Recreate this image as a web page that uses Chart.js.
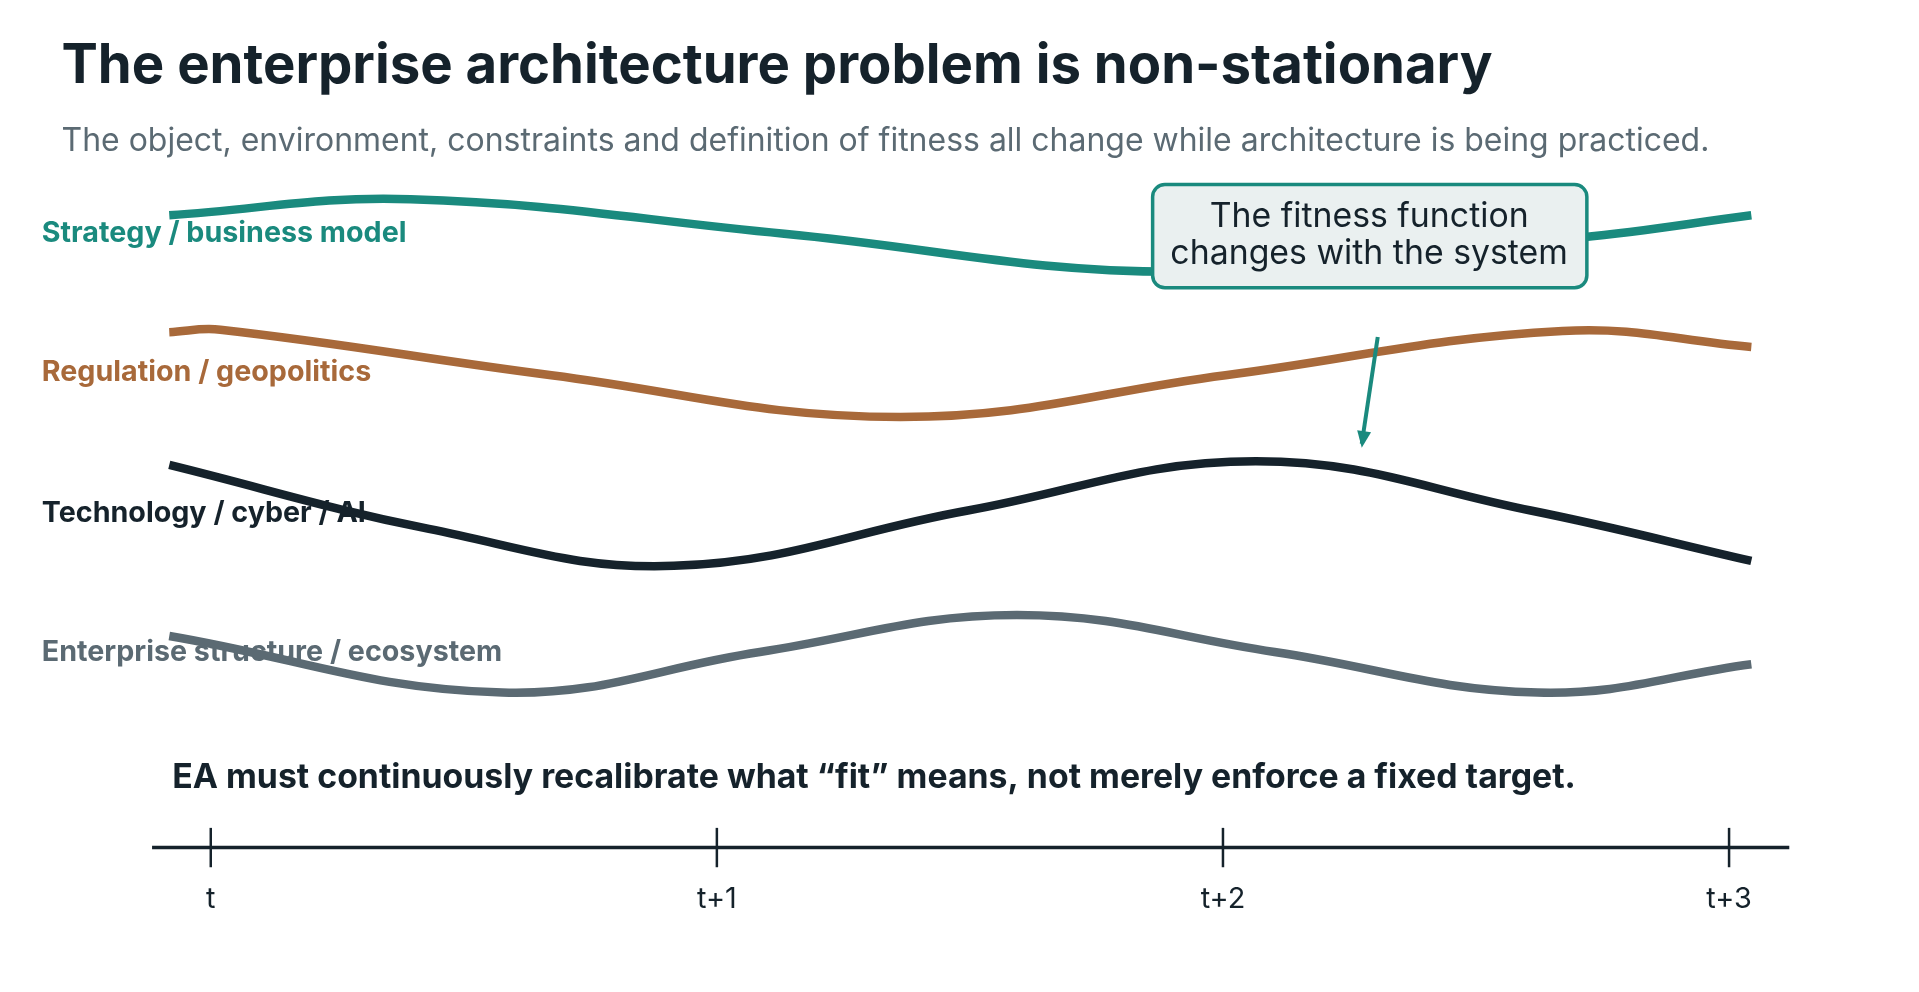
<!DOCTYPE html>
<html><head><meta charset="utf-8">
<script src="https://cdn.jsdelivr.net/npm/chart.js@4/dist/chart.umd.min.js"></script>
<style>html,body{margin:0;padding:0;background:#fff;overflow:hidden}#wrap{width:1919px;height:992px}</style>
</head><body><div id="wrap"><canvas id="c"></canvas></div>
<script>
const tickLabels = ["t","t+1","t+2","t+3"];
const seriesNames = ["Strategy / business model","Regulation / geopolitics","Technology / cyber / AI","Enterprise structure / ecosystem"];
const strategyX = [-0.082,0.395,1.133,1.908,2.707,3.044];
const strategyY = [175,162,190,221,193,175];
const regulationX = [-0.082,0.019,0.673,1.363,2.005,2.671,3.044];
const regulationY = [270,268,305,339,305,269,282];
const technologyX = [-0.082,0.431,0.915,1.496,2.065,2.608,3.044];
const technologyY = [378,430,460,415,375,415,456];
const enterpriseX = [-0.082,0.576,1.085,1.593,2.102,2.622,3.044];
const enterpriseY = [517,563,530,500,530,563,540];
const colors = ["#1a8a7e","#a8693a","#15222b","#5b6a73"];

const S = 1919/1560;
const toPts = (xs, ys) => xs.map((x,i)=>({x, y: ys[i]}));
const mk = (i, xs, ys) => ({label: seriesNames[i], data: toPts(xs, ys), borderColor: colors[i], borderWidth: 8.5,
  pointRadius: 0, tension: 0.4, fill: false, borderCapStyle: 'butt'});

const labelsPlugin = {
  id: 'labels',
  beforeDatasetsDraw(chart) {
    const c = chart.ctx;
    c.save();
    c.textBaseline = 'middle';
    c.fillStyle = '#15222b';
    c.font = 'bold ' + (44.3*S) + 'px Inter';
    c.fillText('The enterprise architecture problem is non-stationary', 50*S, 54*S);
    c.fillStyle = '#5b6a73';
    c.font = (26*S) + 'px Inter';
    c.fillText('The object, environment, constraints and definition of fitness all change while architecture is being practiced.', 50*S, 115*S);
    const ly = [190, 303, 417, 530];
    c.font = 'bold ' + (23.3*S) + 'px Inter';
    seriesNames.forEach((n,i)=>{ c.fillStyle = colors[i]; c.fillText(n, 34*S, ly[i]*S); });
    c.fillStyle = '#15222b';
    c.font = 'bold ' + (27.5*S) + 'px Inter';
    c.fillText('EA must continuously recalibrate what \u201cfit\u201d means, not merely enforce a fixed target.', 140*S, 632*S);
    const xs = chart.scales.x, ysc = chart.scales.y;
    const yA = ysc.getPixelForValue(689);
    c.strokeStyle = '#15222b';
    c.lineWidth = 3.5;
    c.beginPath(); c.moveTo(xs.getPixelForValue(-0.116), yA); c.lineTo(xs.getPixelForValue(3.119), yA); c.stroke();
    c.lineWidth = 2.5;
    c.font = (23.5*S) + 'px Inter';
    c.textAlign = 'center';
    tickLabels.forEach((t,i)=>{
      const px = xs.getPixelForValue(i);
      c.beginPath(); c.moveTo(px, ysc.getPixelForValue(673)); c.lineTo(px, ysc.getPixelForValue(705)); c.stroke();
      c.fillText(t, px, ysc.getPixelForValue(731));
    });
    c.restore();
  },
  afterDatasetsDraw(chart) {
    const c = chart.ctx;
    c.save();
    const x0=937*S, y0=150*S, w=(1290-937)*S, h=(234-150)*S;
    c.fillStyle = '#eaf0f0'; c.strokeStyle = '#1a8a7e'; c.lineWidth = 3.5;
    c.beginPath(); c.roundRect(x0,y0,w,h,10*S); c.fill(); c.stroke();
    c.fillStyle = '#15222b'; c.font = (27.5*S)+'px Inter'; c.textAlign='center'; c.textBaseline='middle';
    c.fillText('The fitness function', 1113*S, 176*S);
    c.fillText('changes with the system', 1113*S, 206*S);
    const ax=1120*S, ay=274*S, bx=1107*S, by=364*S;
    c.strokeStyle = '#1a8a7e'; c.lineWidth = 4;
    c.beginPath(); c.moveTo(ax,ay); c.lineTo(bx,by-4); c.stroke();
    const ang = Math.atan2(by-ay, bx-ax), L=18;
    c.fillStyle = '#1a8a7e';
    c.beginPath(); c.moveTo(bx,by);
    c.lineTo(bx - L*Math.cos(ang-0.4), by - L*Math.sin(ang-0.4));
    c.lineTo(bx - L*Math.cos(ang+0.4), by - L*Math.sin(ang+0.4));
    c.closePath(); c.fill();
    c.restore();
  }
};

new Chart(document.getElementById('c'), {
  type: 'line',
  data: { datasets: [mk(0,strategyX,strategyY), mk(1,regulationX,regulationY), mk(2,technologyX,technologyY), mk(3,enterpriseX,enterpriseY)] },
  options: {
    responsive: true, maintainAspectRatio: false, animation: false,
    layout: { padding: 0 },
    plugins: { legend: {display:false}, tooltip: {enabled:false} },
    scales: {
      x: { type: 'linear', min: -172/413, max: (1566-172)/413, display: false },
      y: { min: 0, max: 992/S, reverse: true, display: false }
    }
  },
  plugins: [labelsPlugin]
});
</script></body></html>
